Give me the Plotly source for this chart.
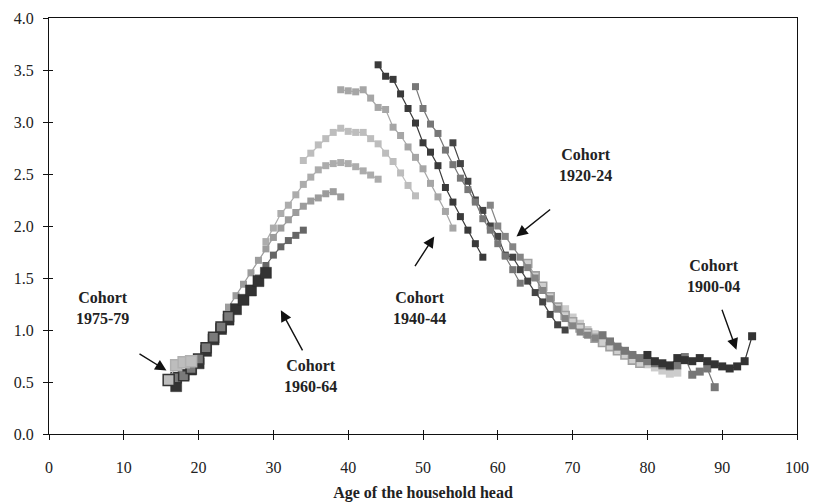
import plotly.graph_objects as go

# ---------------- data (age of household head -> value) ----------------
cohort_labels = ["1975-79", "1970-74", "1965-69", "1960-64", "1955-59", "1950-54",
                 "1945-49", "1940-44", "1935-39", "1930-34", "1925-29", "1920-24",
                 "1915-19", "1910-14", "1905-09", "1900-04"]

age_start = {"1975-79": 16, "1970-74": 17, "1965-69": 17, "1960-64": 19, "1955-59": 24,
             "1950-54": 29, "1945-49": 34, "1940-44": 39, "1935-39": 44, "1930-34": 49,
             "1925-29": 54, "1920-24": 59, "1915-19": 64, "1910-14": 69, "1905-09": 74,
             "1900-04": 80}

c1975 = [0.52, 0.66, 0.69, 0.70]
c1970 = [0.54, 0.56, 0.63, 0.72, 0.83, 0.93, 1.03, 1.13]
c1965 = [0.46, 0.57, 0.62, 0.68, 0.80, 0.91, 1.01, 1.10, 1.20, 1.29, 1.38, 1.47, 1.55]
c1960 = [0.62, 0.72, 0.82, 0.92, 1.02, 1.12, 1.20, 1.30, 1.40, 1.50, 1.62, 1.72, 1.80, 1.86, 1.91, 1.96]
c1955 = [1.22, 1.33, 1.44, 1.55, 1.67, 1.78, 1.89, 1.98, 2.06, 2.13, 2.19, 2.24, 2.27, 2.31, 2.33, 2.28]
c1950 = [1.85, 1.98, 2.12, 2.20, 2.30, 2.40, 2.47, 2.54, 2.58, 2.60, 2.61, 2.60, 2.57, 2.53, 2.49, 2.45]
c1945 = [2.63, 2.70, 2.78, 2.84, 2.90, 2.94, 2.91, 2.90, 2.90, 2.84, 2.79, 2.70, 2.62, 2.51, 2.39, 2.29]
c1940 = [3.31, 3.30, 3.29, 3.31, 3.23, 3.14, 3.12, 2.95, 2.87, 2.76, 2.66, 2.55, 2.41, 2.28, 2.14, 1.98]
c1935 = [3.55, 3.44, 3.41, 3.27, 3.13, 2.99, 2.80, 2.71, 2.58, 2.37, 2.23, 2.09, 1.96, 1.83, 1.70]
c1930 = [3.34, 3.13, 2.98, 2.89, 2.73, 2.59, 2.46, 2.35, 2.23, 2.07, 1.96, 1.83, 1.71, 1.58, 1.45]
c1925 = [2.80, 2.60, 2.43, 2.25, 2.15, 2.00, 1.90, 1.72, 1.70, 1.58, 1.47, 1.36, 1.27, 1.15, 1.05, 1.00]
c1920 = [2.20, 2.00, 1.90, 1.80, 1.70, 1.60, 1.50, 1.38, 1.30, 1.20, 1.11, 1.04, 0.98, 0.95, 0.92]
c1915 = [1.64, 1.52, 1.42, 1.32, 1.22, 1.14, 1.08, 1.02, 0.97, 0.92, 0.88, 0.84, 0.80, 0.76, 0.71, 0.68]
c1910 = [1.20, 1.12, 1.06, 1.00, 0.96, 0.90, 0.86, 0.82, 0.78, 0.74, 0.70, 0.67, 0.64, 0.61, 0.58, 0.59]
c1905 = [0.95, 0.89, 0.84, 0.80, 0.76, 0.73, 0.70, 0.68, 0.66, 0.65, 0.66, 0.74, 0.57, 0.60, 0.63, 0.45]
c1900 = [0.76, 0.70, 0.68, 0.66, 0.73, 0.71, 0.70, 0.73, 0.70, 0.67, 0.65, 0.63, 0.65, 0.70, 0.94]

values = {"1975-79": c1975, "1970-74": c1970, "1965-69": c1965, "1960-64": c1960,
          "1955-59": c1955, "1950-54": c1950, "1945-49": c1945, "1940-44": c1940,
          "1935-39": c1935, "1930-34": c1930, "1925-29": c1925, "1920-24": c1920,
          "1915-19": c1915, "1910-14": c1910, "1905-09": c1905, "1900-04": c1900}

x_ticks = [0, 10, 20, 30, 40, 50, 60, 70, 80, 90, 100]
y_ticks = [0.0, 0.5, 1.0, 1.5, 2.0, 2.5, 3.0, 3.5, 4.0]

# annotations: label, text position, arrow tail, arrow head (data coords)
notes = [
    ("Cohort<br>1975-79", (7.2, 1.21), (11.9, 0.78), (15.7, 0.61)),
    ("Cohort<br>1960-64", (35.0, 0.56), (34.0, 0.79), (31.0, 1.19)),
    ("Cohort<br>1940-44", (49.5, 1.21), (48.8, 1.60), (51.5, 1.90)),
    ("Cohort<br>1920-24", (71.7, 2.59), (67.2, 2.17), (62.5, 1.90)),
    ("Cohort<br>1900-04", (88.9, 1.52), (89.9, 1.21), (91.9, 0.81)),
]

# ---------------- styles ----------------
styles = {
    "1975-79": dict(fill="#bdbdbd", line="#bdbdbd",
                    border=["#333333", "#b0b0b0", "#b0b0b0", "#b0b0b0"], bw=1.5, size=11),
    "1970-74": dict(fill="#7a7a7a", line="#7a7a7a", border="#333333", bw=1.5, size=10),
    "1965-69": dict(fill="#333333", line="#333333", border="#2a2a2a", bw=0.5, size=11),
    "1960-64": dict(fill="#666666", line="#666666", border="#666666", bw=0, size=7),
    "1955-59": dict(fill="#9c9c9c", line="#9c9c9c", border="#9c9c9c", bw=0, size=7),
    "1950-54": dict(fill="#acacac", line="#acacac", border="#acacac", bw=0, size=7),
    "1945-49": dict(fill="#bdbdbd", line="#bdbdbd", border="#bdbdbd", bw=0, size=7),
    "1940-44": dict(fill="#a6a6a6", line="#a6a6a6", border="#a6a6a6", bw=0, size=7),
    "1935-39": dict(fill="#3a3a3a", line="#3a3a3a", border="#3a3a3a", bw=0, size=7),
    "1930-34": dict(fill="#777777", line="#777777", border="#777777", bw=0, size=7),
    "1925-29": dict(fill="#444444", line="#444444", border="#444444", bw=0, size=7),
    "1920-24": dict(fill="#858585", line="#858585", border="#858585", bw=0, size=7),
    "1915-19": dict(fill="#cfcfcf", line="#a0a0a0", border="#a0a0a0", bw=1.6, size=8),
    "1910-14": dict(fill="#cccccc", line="#cccccc", border="#cccccc", bw=0, size=8),
    "1905-09": dict(fill="#777777", line="#777777", border="#777777", bw=0, size=8),
    "1900-04": dict(fill="#333333", line="#333333", border="#333333", bw=0, size=8),
}

draw_order = ["1910-14", "1915-19", "1920-24", "1925-29", "1930-34", "1905-09", "1900-04",
              "1945-49", "1950-54", "1940-44", "1935-39", "1955-59", "1960-64",
              "1965-69", "1970-74", "1975-79"]

fig = go.Figure()
for c in draw_order:
    v = values[c]
    ages = list(range(age_start[c], age_start[c] + len(v)))
    s = styles[c]
    fig.add_trace(go.Scatter(
        x=ages, y=v, mode="lines+markers", name="Cohort " + c,
        line=dict(color=s["line"], width=1.2),
        marker=dict(symbol="square", size=s["size"], color=s["fill"],
                    line=dict(color=s["border"], width=s["bw"])),
        showlegend=False, hoverinfo="skip"))

# dummy trace so the overlay tick axes exist
fig.add_trace(go.Scatter(x=[50], y=[2], xaxis="x2", yaxis="y2", mode="markers",
                         marker=dict(opacity=0), showlegend=False, hoverinfo="skip"))

serif = "Liberation Serif"
for text, tpos, tail, head in notes:
    fig.add_annotation(x=tpos[0], y=tpos[1], text="<b>" + text + "</b>", showarrow=False,
                       font=dict(family=serif, size=16, color="#222222"), align="center")
    fig.add_annotation(x=head[0], y=head[1], ax=tail[0], ay=tail[1], axref="x", ayref="y",
                       text="", showarrow=True, arrowhead=2, arrowsize=1.6, arrowwidth=1.4,
                       arrowcolor="#111111")

axis_common = dict(showgrid=False, zeroline=False, automargin=False)
fig.update_layout(
    width=813, height=502,
    margin=dict(l=49, r=16, t=18, b=68),
    paper_bgcolor="white", plot_bgcolor="white",
    font=dict(family=serif, size=16, color="#222222"),
    xaxis=dict(range=[0, 100], tickvals=x_ticks, ticktext=[str(t) for t in x_ticks],
               ticks="outside", ticklen=5, tickwidth=1.2, tickcolor="#111111",
               showline=True, mirror=True, linecolor="#111111", linewidth=1.2,
               ticklabelstandoff=14,
               title=dict(text="<b>Age of the household head</b>", font=dict(family=serif, size=16),
                          standoff=12), **axis_common),
    yaxis=dict(range=[0, 4], tickvals=y_ticks, ticktext=["%.1f" % t for t in y_ticks],
               ticks="outside", ticklen=5, tickwidth=1.2, tickcolor="#111111",
               showline=True, mirror=True, linecolor="#111111", linewidth=1.2,
               ticklabelstandoff=6, **axis_common),
    xaxis2=dict(range=[0, 100], overlaying="x", anchor="y2", tickvals=x_ticks[1:-1],
                ticks="inside", ticklen=4, tickwidth=1.2, tickcolor="#111111",
                showticklabels=False, showline=False, side="bottom", **axis_common),
    yaxis2=dict(range=[0, 4], overlaying="y", anchor="x2", tickvals=y_ticks[1:-1],
                ticks="inside", ticklen=4, tickwidth=1.2, tickcolor="#111111",
                showticklabels=False, showline=False, side="left", **axis_common),
)

fig.write_html("out.html")
